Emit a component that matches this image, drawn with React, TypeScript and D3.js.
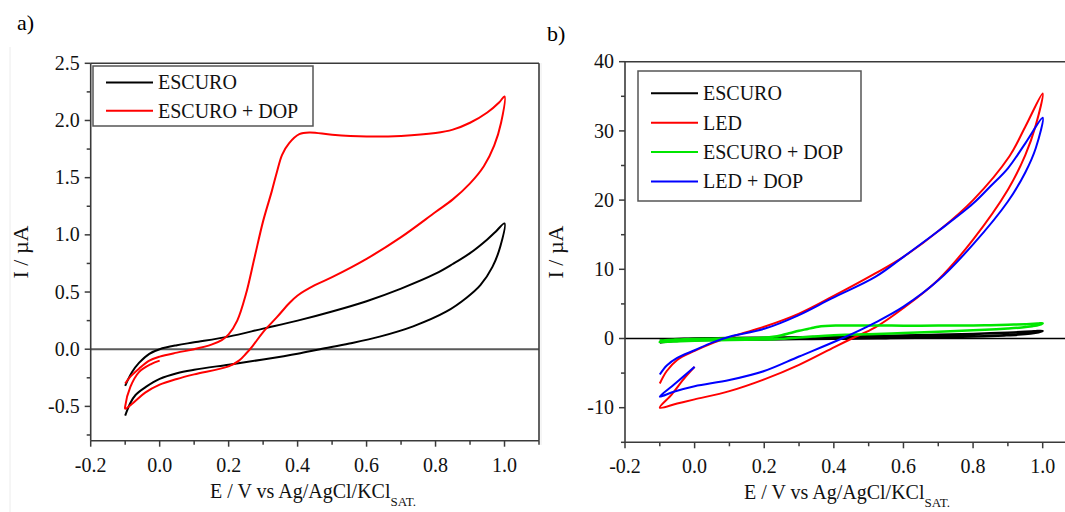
import * as d3 from 'd3';

// potential axis (shared by both panels)
const xTicks = [-0.2, 0.0, 0.2, 0.4, 0.6, 0.8, 1.0];
const xMinor = [-0.1, 0.1, 0.3, 0.5, 0.7, 0.9, 1.1];
const yTicksA = [-0.5, 0.0, 0.5, 1.0, 1.5, 2.0, 2.5];
const yMinorA = [-0.75, -0.25, 0.25, 0.75, 1.25, 1.75, 2.25];
const yTicksB = [-10, 0, 10, 20, 30, 40];
const yMinorB = [-15, -5, 5, 15, 25, 35];

// [E (V), I (uA)]
const escuro: [number, number][] = [
  [-0.1, -0.58], [-0.085, -0.47], [-0.07, -0.4], [-0.04, -0.33], [0.0, -0.26], [0.05, -0.21],
  [0.1, -0.18], [0.2, -0.135], [0.3, -0.09], [0.4, -0.04], [0.465, 0.0], [0.55, 0.05],
  [0.638, 0.11], [0.735, 0.2], [0.832, 0.33], [0.89, 0.45], [0.93, 0.56], [0.965, 0.72],
  [0.988, 0.9], [1.0, 1.1],
  [0.975, 1.03], [0.95, 0.96], [0.9, 0.84], [0.85, 0.745], [0.8, 0.66], [0.7, 0.53],
  [0.6, 0.42], [0.5, 0.33], [0.4, 0.25], [0.3, 0.18], [0.2, 0.11], [0.1, 0.06], [0.05, 0.035], [0.0, 0.0],
  [-0.03, -0.04], [-0.06, -0.12], [-0.08, -0.2], [-0.1, -0.32],
];

const escuroDop: [number, number][] = [
  [0.0, -0.1], [-0.025, -0.13], [-0.06, -0.2], [-0.085, -0.33], [-0.1, -0.5],
  [-0.1, -0.52], [-0.077, -0.47], [-0.042, -0.38], [0.0, -0.31], [0.05, -0.26], [0.1, -0.22],
  [0.2, -0.15], [0.23, -0.1], [0.25, -0.04], [0.27, 0.03], [0.3, 0.15], [0.34, 0.28],
  [0.375, 0.4], [0.4, 0.47], [0.45, 0.56], [0.5, 0.63], [0.6, 0.79], [0.7, 0.98], [0.8, 1.2],
  [0.85, 1.31], [0.9, 1.45], [0.94, 1.6], [0.97, 1.78], [0.99, 1.98], [1.0, 2.21],
  [0.985, 2.16], [0.95, 2.07], [0.9, 1.98], [0.85, 1.92], [0.8, 1.89], [0.7, 1.865], [0.6, 1.86],
  [0.5, 1.875], [0.435, 1.895], [0.405, 1.88], [0.375, 1.8], [0.355, 1.7], [0.34, 1.55],
  [0.325, 1.38], [0.3, 1.12], [0.275, 0.8], [0.25, 0.48], [0.225, 0.25], [0.2, 0.13],
  [0.18, 0.08], [0.15, 0.04], [0.1, 0.0], [0.05, -0.03], [0.0, -0.065], [-0.03, -0.1],
  [-0.06, -0.17], [-0.085, -0.24], [-0.1, -0.3],
];

const led: [number, number][] = [
  [0.0, -4.1], [-0.032, -5.9], [-0.066, -8.1], [-0.1, -10.0],
  [-0.05, -9.4], [0.0, -8.8], [0.1, -7.6], [0.2, -5.9], [0.3, -3.8], [0.403, -1.2], [0.452, 0.0],
  [0.519, 1.6], [0.6, 4.4], [0.7, 8.5], [0.8, 14.3], [0.9, 21.5], [0.95, 26.5],
  [0.98, 30.8], [1.0, 35.4],
  [0.95, 30.6], [0.904, 26.3], [0.8, 20.0], [0.702, 15.6], [0.6, 11.8], [0.519, 9.4], [0.394, 6.0],
  [0.3, 3.6], [0.2, 1.7], [0.134, 0.7], [0.1, 0.15], [0.05, -0.7], [0.0, -1.8],
  [-0.05, -3.1], [-0.08, -4.7], [-0.1, -6.5],
];

const ledDop: [number, number][] = [
  [0.0, -4.1], [-0.03, -5.4], [-0.065, -6.9], [-0.1, -8.4],
  [-0.06, -7.7], [0.0, -6.9], [0.1, -6.0], [0.2, -4.7], [0.3, -2.6], [0.423, 0.0],
  [0.519, 2.3], [0.6, 4.6], [0.7, 8.4], [0.8, 13.6], [0.9, 19.8], [0.95, 24.0],
  [0.98, 27.5], [1.0, 31.9],
  [0.95, 28.2], [0.9, 24.6], [0.85, 22.0], [0.8, 19.5], [0.702, 15.6], [0.6, 11.8], [0.519, 8.9], [0.394, 5.8],
  [0.298, 3.35], [0.2, 1.4], [0.1, 0.25], [0.05, -0.6], [0.0, -1.7], [-0.05, -2.8],
  [-0.08, -3.9], [-0.1, -5.2],
];

type Series = { label: string; color: string; data: [number, number][]; width?: number };

const seriesA: Series[] = [
  { label: 'ESCURO', color: '#000000', data: escuro },
  { label: 'ESCURO + DOP', color: '#ff0000', data: escuroDop },
];

const seriesB: Series[] = [
  { label: 'ESCURO', color: '#000000', data: escuro, width: 2.5 },
  { label: 'LED', color: '#ff0000', data: led },
  { label: 'ESCURO + DOP', color: '#00e600', data: escuroDop, width: 2.5 },
  { label: 'LED + DOP', color: '#0000ff', data: ledDop },
];

const font = 'Liberation Serif, DejaVu Serif, Times New Roman, serif';
const axisColor = '#3a3a3a';

type PanelProps = {
  tag: string;
  tagX: number;
  tagY: number;
  left: number;
  right: number;
  top: number;
  bottom: number;
  yDomain: [number, number];
  yTicks: number[];
  yMinor: number[];
  yFmt: (v: number) => string;
  series: Series[];
  legend: { x: number; y: number; w: number; h: number; row0: number; rowStep: number };
  zeroColor: string;
  zeroWidth: number;
  xTitleX: number;
  yTitleX: number;
  lineWidth: number;
};

function Panel(p: PanelProps) {
  const x = d3.scaleLinear([-0.2, 1.1], [p.left, p.right]);
  const y = d3.scaleLinear(p.yDomain, [p.bottom, p.top]);
  const line = d3
    .line<[number, number]>()
    .x((d) => x(d[0]))
    .y((d) => y(d[1]))
    .curve(d3.curveCatmullRom.alpha(0.5));
  const lg = p.legend;
  return (
    <g style={{ fontFamily: font }}>
      <text x={p.tagX} y={p.tagY} fontSize={22} fill="#000">{p.tag}</text>
      {/* zero line */}
      <line x1={p.left} x2={p.right} y1={y(0)} y2={y(0)} stroke={p.zeroColor} strokeWidth={p.zeroWidth} />
      {/* curves */}
      {p.series.map((s) => (
        <path key={s.label} d={line(s.data) ?? ''} fill="none" stroke={s.color} strokeWidth={s.width ?? p.lineWidth} strokeLinejoin="round" />
      ))}
      {/* frame */}
      <line x1={p.left} x2={p.right} y1={p.top} y2={p.top} stroke={axisColor} strokeWidth={1.6} />
      <line x1={p.right} x2={p.right} y1={p.top} y2={p.bottom} stroke={axisColor} strokeWidth={1.6} />
      <line x1={p.left} x2={p.left} y1={p.top} y2={p.bottom} stroke={axisColor} strokeWidth={1.6} />
      <line x1={p.left} x2={p.right} y1={p.bottom} y2={p.bottom} stroke={axisColor} strokeWidth={1.6} />
      {/* x ticks */}
      {xTicks.map((t) => (
        <g key={t}>
          <line x1={x(t)} x2={x(t)} y1={p.bottom} y2={p.bottom + 6} stroke={axisColor} strokeWidth={1.5} />
          <text x={x(t)} y={p.bottom + 31} fontSize={20} textAnchor="middle" fill="#111">{t.toFixed(1)}</text>
        </g>
      ))}
      {xMinor.map((t) => (
        <line key={t} x1={x(t)} x2={x(t)} y1={p.bottom} y2={p.bottom + 4} stroke={axisColor} strokeWidth={1.5} />
      ))}
      {/* y ticks */}
      {p.yTicks.map((t) => (
        <g key={t}>
          <line x1={p.left - 6} x2={p.left} y1={y(t)} y2={y(t)} stroke={axisColor} strokeWidth={1.5} />
          <text x={p.left - 11} y={y(t)} dy="0.33em" fontSize={20} textAnchor="end" fill="#111">{p.yFmt(t)}</text>
        </g>
      ))}
      {p.yMinor.map((t) => (
        <line key={t} x1={p.left - 4} x2={p.left} y1={y(t)} y2={y(t)} stroke={axisColor} strokeWidth={1.5} />
      ))}
      {/* axis titles */}
      <text x={p.xTitleX} y={p.bottom + 57} fontSize={20} textAnchor="middle" fill="#111">
        <tspan>E / V vs Ag/AgCl/KCl</tspan>
        <tspan fontSize={13} dy={8}>SAT.</tspan>
      </text>
      <text
        transform={`translate(${p.yTitleX},${(p.top + p.bottom) / 2}) rotate(-90)`}
        fontSize={22}
        textAnchor="middle"
        fill="#111"
      >
        I / µA
      </text>
      {/* legend */}
      <rect x={lg.x} y={lg.y} width={lg.w} height={lg.h} fill="#fff" stroke="#555" strokeWidth={1.5} />
      {p.series.map((s, i) => {
        const ry = lg.row0 + i * lg.rowStep;
        return (
          <g key={s.label}>
            <line x1={lg.x + 13} x2={lg.x + 60} y1={ry} y2={ry} stroke={s.color} strokeWidth={2} />
            <text x={lg.x + 65} y={ry} dy="0.34em" fontSize={20} fill="#111">{s.label}</text>
          </g>
        );
      })}
    </g>
  );
}

export default function App() {
  return (
    <svg
      width={1065}
      height={512}
      style={{ position: 'absolute', left: 0, top: 0, background: '#fff' }}
    >
      <rect width={1065} height={512} fill="#fff" />
      <line x1={10} x2={10} y1={47} y2={512} stroke="#ececec" strokeWidth={1} />
      <line x1={541} x2={541} y1={63} y2={445} stroke="#ececec" strokeWidth={1} />
      <Panel
        tag="a)"
        tagX={17}
        tagY={30}
        left={90.7}
        right={539}
        top={63.3}
        bottom={440.7}
        yDomain={[-0.8, 2.5]}
        yTicks={yTicksA}
        yMinor={yMinorA}
        yFmt={(v) => v.toFixed(1)}
        series={seriesA}
        legend={{ x: 93, y: 66, w: 220, h: 60, row0: 82.6, rowStep: 28.2 }}
        zeroColor="#5a5a5a"
        zeroWidth={2}
        xTitleX={313}
        yTitleX={28}
        lineWidth={2}
      />
      <Panel
        tag="b)"
        tagX={547}
        tagY={41}
        left={625}
        right={1077.5}
        top={61.7}
        bottom={442.3}
        yDomain={[-15, 40]}
        yTicks={yTicksB}
        yMinor={yMinorB}
        yFmt={(v) => String(v)}
        series={seriesB}
        legend={{ x: 638, y: 71, w: 223, h: 130, row0: 93.3, rowStep: 29.4 }}
        zeroColor="#000"
        zeroWidth={1.5}
        xTitleX={847}
        yTitleX={563}
        lineWidth={2}
      />
    </svg>
  );
}
